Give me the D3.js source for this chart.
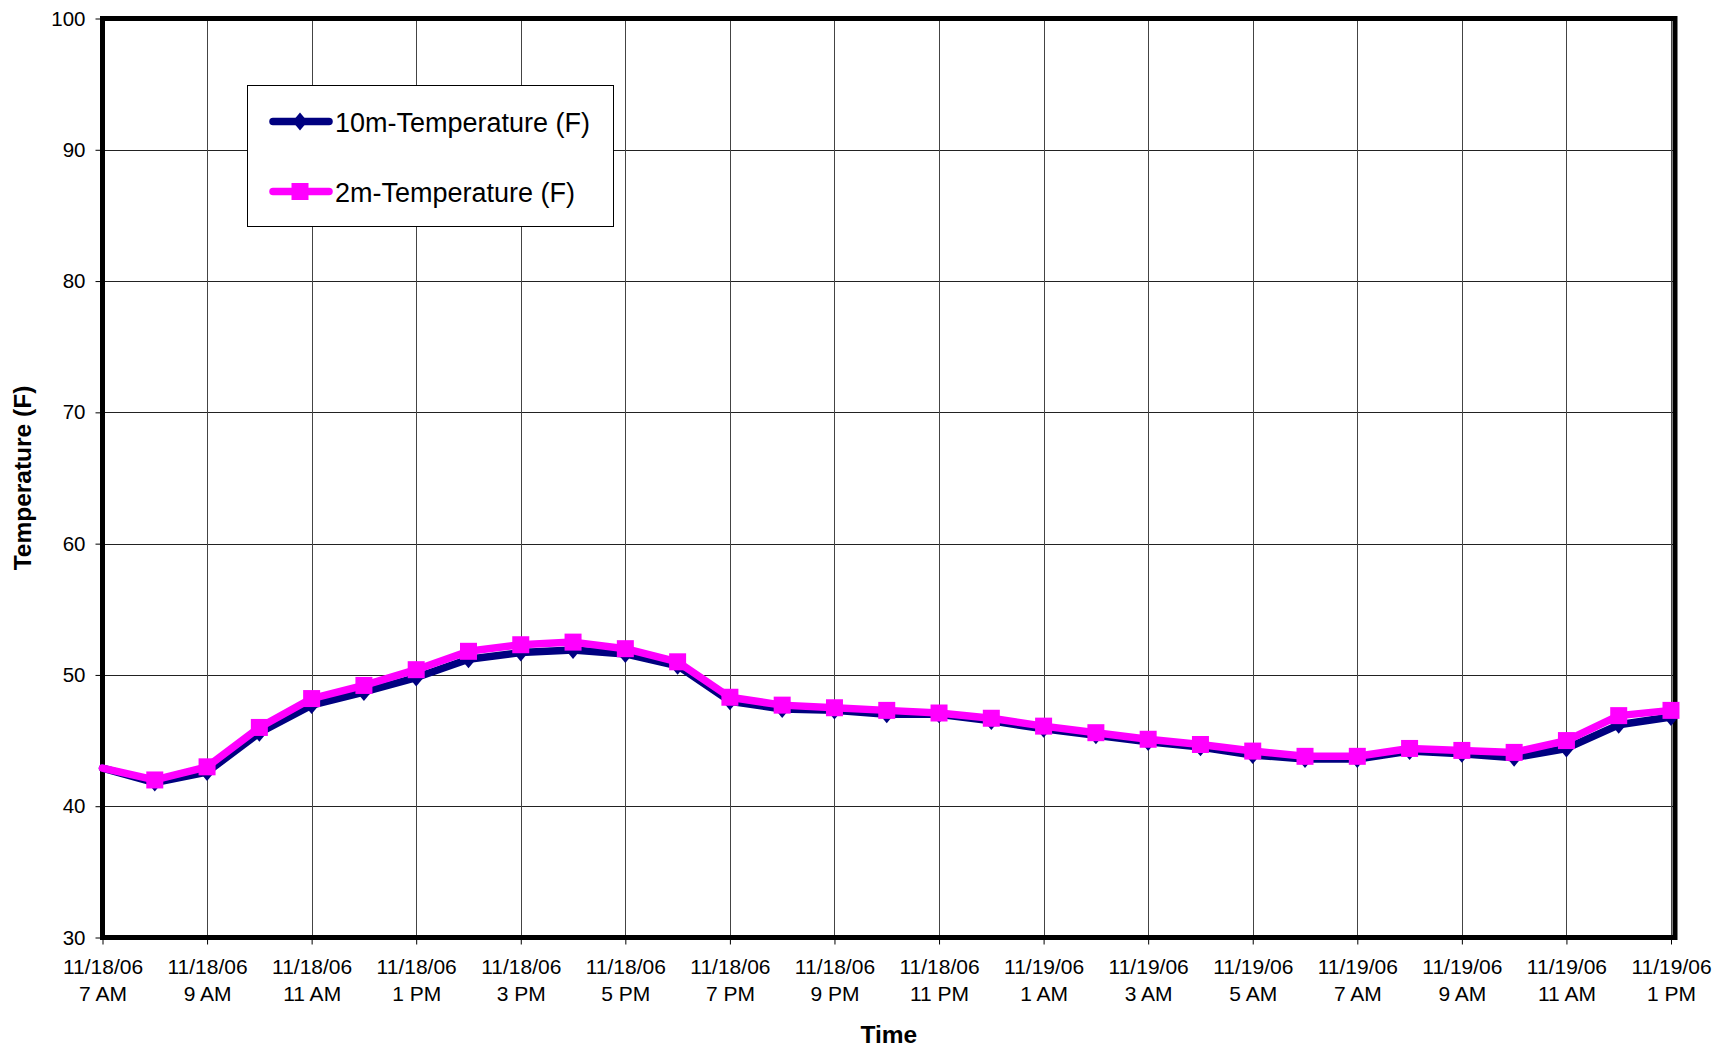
<!DOCTYPE html>
<html>
<head>
<meta charset="utf-8">
<script src="https://cdn.jsdelivr.net/npm/d3@7/dist/d3.min.js"></script>
<style>
  html, body { margin: 0; padding: 0; background: #fff; }
  svg { display: block; font-family: "Liberation Sans", Arial, sans-serif; }
</style>
</head>
<body>
<svg id="chart" width="1725" height="1050"></svg>
<script>
// Hourly observations, 11/18/06 7 AM through 11/19/06 1 PM
const categories = [
  "11/18/06 7 AM", "11/18/06 8 AM", "11/18/06 9 AM", "11/18/06 10 AM", "11/18/06 11 AM",
  "11/18/06 12 PM", "11/18/06 1 PM", "11/18/06 2 PM", "11/18/06 3 PM", "11/18/06 4 PM",
  "11/18/06 5 PM", "11/18/06 6 PM", "11/18/06 7 PM", "11/18/06 8 PM", "11/18/06 9 PM",
  "11/18/06 10 PM", "11/18/06 11 PM", "11/19/06 12 AM", "11/19/06 1 AM", "11/19/06 2 AM",
  "11/19/06 3 AM", "11/19/06 4 AM", "11/19/06 5 AM", "11/19/06 6 AM", "11/19/06 7 AM",
  "11/19/06 8 AM", "11/19/06 9 AM", "11/19/06 10 AM", "11/19/06 11 AM", "11/19/06 12 PM",
  "11/19/06 1 PM"
];

// 10 m tower temperature (F)
const temp10m = [
  42.9, 41.8, 42.6, 45.6, 47.7, 48.7, 49.8, 51.2, 51.7, 51.9,
  51.6, 50.7, 48.0, 47.4, 47.3, 47.0, 47.0, 46.5, 45.9, 45.4,
  44.9, 44.5, 43.9, 43.6, 43.6, 44.2, 44.0, 43.7, 44.4, 46.2,
  46.8
];

// 2 m temperature (F)
const temp2m = [
  42.9, 42.0, 43.0, 46.0, 48.2, 49.2, 50.4, 51.8, 52.3, 52.5,
  52.0, 51.0, 48.3, 47.7, 47.5, 47.3, 47.1, 46.7, 46.1, 45.6,
  45.1, 44.7, 44.2, 43.8, 43.8, 44.4, 44.25, 44.1, 45.0, 46.9,
  47.3
];

const yTicks = [30, 40, 50, 60, 70, 80, 90, 100];
const seriesNames = ["10m-Temperature (F)", "2m-Temperature (F)"];
const yTitle = "Temperature (F)";
const xTitle = "Time";

const svg = d3.select("#chart");

const plot = { left: 102.5, right: 1675, top: 18.5, bottom: 937.5 };

const x = d3.scalePoint().domain(categories).range([102.5, 1671]);
const y = d3.scaleLinear().domain([30, 100]).range([plot.bottom, plot.top]);

// labelled categories: every second hour
const xTickCats = categories.filter((d, i) => i % 2 === 0);

// ---- gridlines ----
const grid = svg.append("g");
grid.selectAll("line.h").data(yTicks.slice(1, -1)).join("line")
  .attr("x1", plot.left).attr("x2", plot.right)
  .attr("y1", d => Math.round(y(d)) + 0.5).attr("y2", d => Math.round(y(d)) + 0.5)
  .attr("stroke", "#222").attr("stroke-width", 1);
grid.selectAll("line.v").data(xTickCats.slice(1)).join("line")
  .attr("x1", d => Math.round(x(d)) + 0.5).attr("x2", d => Math.round(x(d)) + 0.5)
  .attr("y1", plot.top).attr("y2", plot.bottom)
  .attr("stroke", "#444").attr("stroke-width", 1);

// ---- axes ----
const yAxis = svg.append("g")
  .attr("transform", `translate(${plot.left},0)`)
  .call(d3.axisLeft(y).tickValues(yTicks).tickSize(7).tickPadding(10).tickFormat(d3.format("d")));
yAxis.select(".domain").remove();
yAxis.selectAll(".tick line").attr("stroke", "#000").attr("stroke-width", 1);
yAxis.selectAll(".tick text")
  .attr("font-size", 20.5).attr("fill", "#000")
  .attr("font-family", "'Liberation Sans', Arial, sans-serif");

const xAxis = svg.append("g")
  .attr("transform", `translate(0,${plot.bottom})`)
  .call(d3.axisBottom(x).tickValues(xTickCats).tickSize(7).tickFormat(""));
xAxis.select(".domain").remove();
xAxis.selectAll(".tick line").attr("stroke", "#000").attr("stroke-width", 1);
xAxis.selectAll(".tick").each(function (d) {
  const parts = d.split(" ");
  const t = d3.select(this).append("text")
    .attr("text-anchor", "middle")
    .attr("font-size", 21).attr("fill", "#000")
    .attr("font-family", "'Liberation Sans', Arial, sans-serif");
  t.append("tspan").attr("x", 0).attr("y", 36.5).text(parts[0]);
  t.append("tspan").attr("x", 0).attr("y", 63.5).text(parts.slice(1).join(" "));
});

// ---- plot border ----
svg.append("rect")
  .attr("x", plot.left).attr("y", plot.top)
  .attr("width", plot.right - plot.left).attr("height", plot.bottom - plot.top)
  .attr("fill", "none").attr("stroke", "#000").attr("stroke-width", 5);

// ---- series ----
const series = [
  { name: seriesNames[0], values: temp10m, color: "#000080", marker: "diamond" },
  { name: seriesNames[1], values: temp2m, color: "#FF00FF", marker: "square" }
];

function markerPath(type) {
  if (type === "diamond") return "M0,-9L7.5,0L0,9L-7.5,0Z";
  return "M-8.5,-8.5H8.5V8.5H-8.5Z";
}

const line = d3.line()
  .x((d, i) => x(categories[i]))
  .y(d => y(d));

series.forEach(s => {
  const g = svg.append("g");
  g.append("path")
    .datum(s.values)
    .attr("d", line)
    .attr("fill", "none")
    .attr("stroke", s.color)
    .attr("stroke-width", 7.5)
    .attr("stroke-linejoin", "round")
    .attr("stroke-linecap", "round");
  g.selectAll("path.m")
    .data(s.values.map((v, i) => ({ v, i })).filter(d => d.i > 0))
    .join("path")
    .attr("class", "m")
    .attr("d", markerPath(s.marker))
    .attr("transform", d => `translate(${x(categories[d.i])},${y(d.v)})`)
    .attr("fill", s.color);
});

// ---- legend ----
const legend = svg.append("g");
legend.append("rect")
  .attr("x", 247.5).attr("y", 85.5).attr("width", 366).attr("height", 141)
  .attr("fill", "#fff").attr("stroke", "#000").attr("stroke-width", 1);
series.forEach((s, i) => {
  const cy = 121.5 + i * 70;
  legend.append("line")
    .attr("x1", 273).attr("x2", 329).attr("y1", cy).attr("y2", cy)
    .attr("stroke", s.color).attr("stroke-width", 7.5).attr("stroke-linecap", "round");
  legend.append("path")
    .attr("d", markerPath(s.marker))
    .attr("transform", `translate(300,${cy})`)
    .attr("fill", s.color);
  legend.append("text")
    .attr("x", 335).attr("y", cy + 10)
    .attr("font-size", 27).attr("fill", "#000")
    .text(s.name);
});

// ---- axis titles ----
svg.append("text")
  .attr("transform", `translate(31,${(plot.top + plot.bottom) / 2}) rotate(-90)`)
  .attr("text-anchor", "middle")
  .attr("font-size", 24.5).attr("font-weight", "bold").attr("fill", "#000")
  .text(yTitle);
svg.append("text")
  .attr("x", (plot.left + plot.right) / 2).attr("y", 1043)
  .attr("text-anchor", "middle")
  .attr("font-size", 24.5).attr("font-weight", "bold").attr("fill", "#000")
  .text(xTitle);
</script>
</body>
</html>
